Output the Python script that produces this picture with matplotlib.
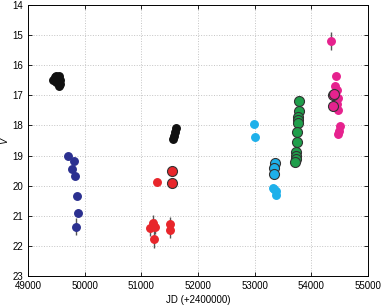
import numpy as np
import matplotlib
matplotlib.use("Agg")
from matplotlib import pyplot as plt

plt.rcParams['font.family'] = ['Liberation Sans', 'DejaVu Sans']

# black (early) group
black1_jd = [49440, 49470, 49500, 49520, 49545, 49560, 49490, 49530, 49555, 49575]
black1_v = [16.48, 16.40, 16.35, 16.38, 16.36, 16.50, 16.55, 16.60, 16.68, 16.62]

# blue group
blue_jd = [49711, 49811, 49782, 49823, 49858, 49876, 49841]
blue_v = [19.02, 19.19, 19.46, 19.69, 20.35, 20.90, 21.37]
blue_err = [0.0, 0.0, 0.0, 0.0, 0.10, 0.12, 0.28]

# red group
red_jd = [51280, 51163, 51210, 51235, 51228, 51504, 51504]
red_v = [19.88, 21.42, 21.23, 21.36, 21.76, 21.28, 21.47]
red_err = [0.0, 0.25, 0.25, 0.25, 0.30, 0.25, 0.28]
red_circ_jd = [51545, 51545]
red_circ_v = [19.50, 19.92]

# black (late) group
black2_jd = [51622, 51600, 51580, 51560]
black2_v = [18.08, 18.22, 18.35, 18.45]

# cyan group
cyan_jd = [52986, 53003, 53320, 53370, 53385, 53345]
cyan_v = [17.94, 18.38, 20.07, 20.18, 20.30, 20.12]
cyan_circ_jd = [53360, 53350, 53350]
cyan_circ_v = [19.24, 19.42, 19.62]

# green group (circled)
green_jd = [53780, 53780, 53760, 53760, 53760, 53750, 53755, 53740, 53735, 53725, 53720]
green_v = [17.20, 17.53, 17.72, 17.82, 17.92, 18.23, 18.55, 18.88, 19.03, 19.13, 19.22]

# magenta group
mag_jd = [54345, 54430, 54420, 54450, 54470, 54480, 54460, 54500, 54490, 54480, 54440]
mag_v = [15.21, 16.35, 16.68, 16.82, 17.10, 17.48, 17.30, 18.03, 18.18, 18.30, 17.20]
mag_err = [0.30, 0, 0, 0, 0, 0, 0, 0, 0, 0, 0]
mag_circ_jd = [54390, 54380, 54410]
mag_circ_v = [16.98, 17.35, 16.95]

fig = plt.figure(figsize=(3.82, 3.05), dpi=100)
ax = fig.add_axes([0.073, 0.095, 0.890, 0.889])


def dots(x, y, color, err=None, ms=5.4):
    if err is not None:
        ax.errorbar(x, y, yerr=err, fmt='none', ecolor='#555555', elinewidth=1.0, zorder=2)
    ax.plot(x, y, 'o', color=color, ms=ms, mec=color, zorder=3)


def circled(x, y, color, ms=7.2):
    ax.plot(x, y, 'o', color=color, ms=ms, mec='#333333', mew=0.8, zorder=4)


dots(black1_jd, black1_v, '#111111')
dots(blue_jd, blue_v, '#2b3090', blue_err)
dots(red_jd, red_v, '#e8262b', red_err)
circled(red_circ_jd, red_circ_v, '#e8262b')
dots(black2_jd, black2_v, '#111111')
dots(cyan_jd, cyan_v, '#1eb0ea')
circled(cyan_circ_jd, cyan_circ_v, '#1eb0ea')
circled(green_jd, green_v, '#1f9e4b')
dots(mag_jd, mag_v, '#e6228e', mag_err)
circled(mag_circ_jd, mag_circ_v, '#e6228e')

ax.set_xlim(49000, 55000)
ax.set_ylim(23, 14)
ax.set_xticks(np.arange(49000, 55001, 1000))
ax.set_yticks(np.arange(14, 24, 1))
ax.grid(True, linestyle=':', color='#c4c4c4', linewidth=0.7)
ax.tick_params(direction='in', top=True, right=True, labelsize=7, length=3, width=0.6)
for s in ax.spines.values():
    s.set_linewidth(0.7)
ax.set_xlabel('JD (+2400000)', fontsize=7, labelpad=3)
ax.set_ylabel('V', fontsize=7, fontstyle='italic', labelpad=2)

fig.savefig('out.png', dpi=100)
